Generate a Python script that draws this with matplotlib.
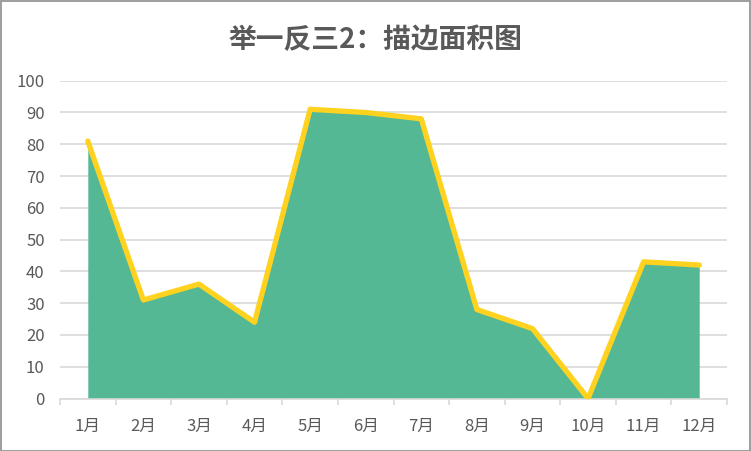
import numpy as np
import matplotlib.pyplot as plt
from matplotlib.patches import Rectangle

plt.rcParams['font.family'] = ['Noto Sans CJK SC', 'DejaVu Sans']

# 数据
months = ['1月', '2月', '3月', '4月', '5月', '6月', '7月', '8月', '9月', '10月', '11月', '12月']
values = [81, 31, 36, 24, 91, 90, 88, 28, 22, 0, 43, 42]
title = '举一反三2：描边面积图'

fig = plt.figure(figsize=(7.51, 4.51), dpi=100)
ax = fig.add_axes([60 / 751, 1 - 398.5 / 451, 667 / 751, 317.8 / 451])

x = np.arange(len(months))
ax.fill_between(x, values, 0, color='#55B894', linewidth=0, zorder=2)
ax.plot(x, values, color='#FFD21F', linewidth=3.8, solid_joinstyle='round',
        solid_capstyle='round', zorder=3)

ax.set_xlim(-0.5, len(months) - 0.5)
ax.set_ylim(0, 100)
ax.set_yticks(np.arange(0, 101, 10))
ax.set_xticks(x)
ax.set_xticklabels(months)
ax.set_xticks(np.arange(-0.5, len(months), 1), minor=True)

ax.grid(axis='y', color='#D9D9D9', linewidth=1.2, zorder=0)
ax.set_axisbelow(True)
for s in ['top', 'right', 'left']:
    ax.spines[s].set_visible(False)
ax.spines['bottom'].set_color('#D9D9D9')
ax.spines['bottom'].set_linewidth(1.2)

ax.tick_params(axis='y', length=0, pad=11, labelsize=12, labelcolor='#595959')
ax.tick_params(axis='x', which='major', length=0, pad=14, labelsize=12, labelcolor='#595959')
ax.tick_params(axis='x', which='minor', length=4, color='#D9D9D9', width=1.2)

fig.text(0.5, 1 - 40 / 451, title, ha='center', va='center', fontsize=20,
         fontweight='bold', color='#595959')

# 图表边框
fig.patches.append(Rectangle((0.5 / 751, 0.5 / 451), 749.5 / 751, 449.5 / 451,
                             transform=fig.transFigure, fill=False,
                             edgecolor='#8C8C8C', linewidth=1.2))

fig.savefig('out.png', dpi=100)
